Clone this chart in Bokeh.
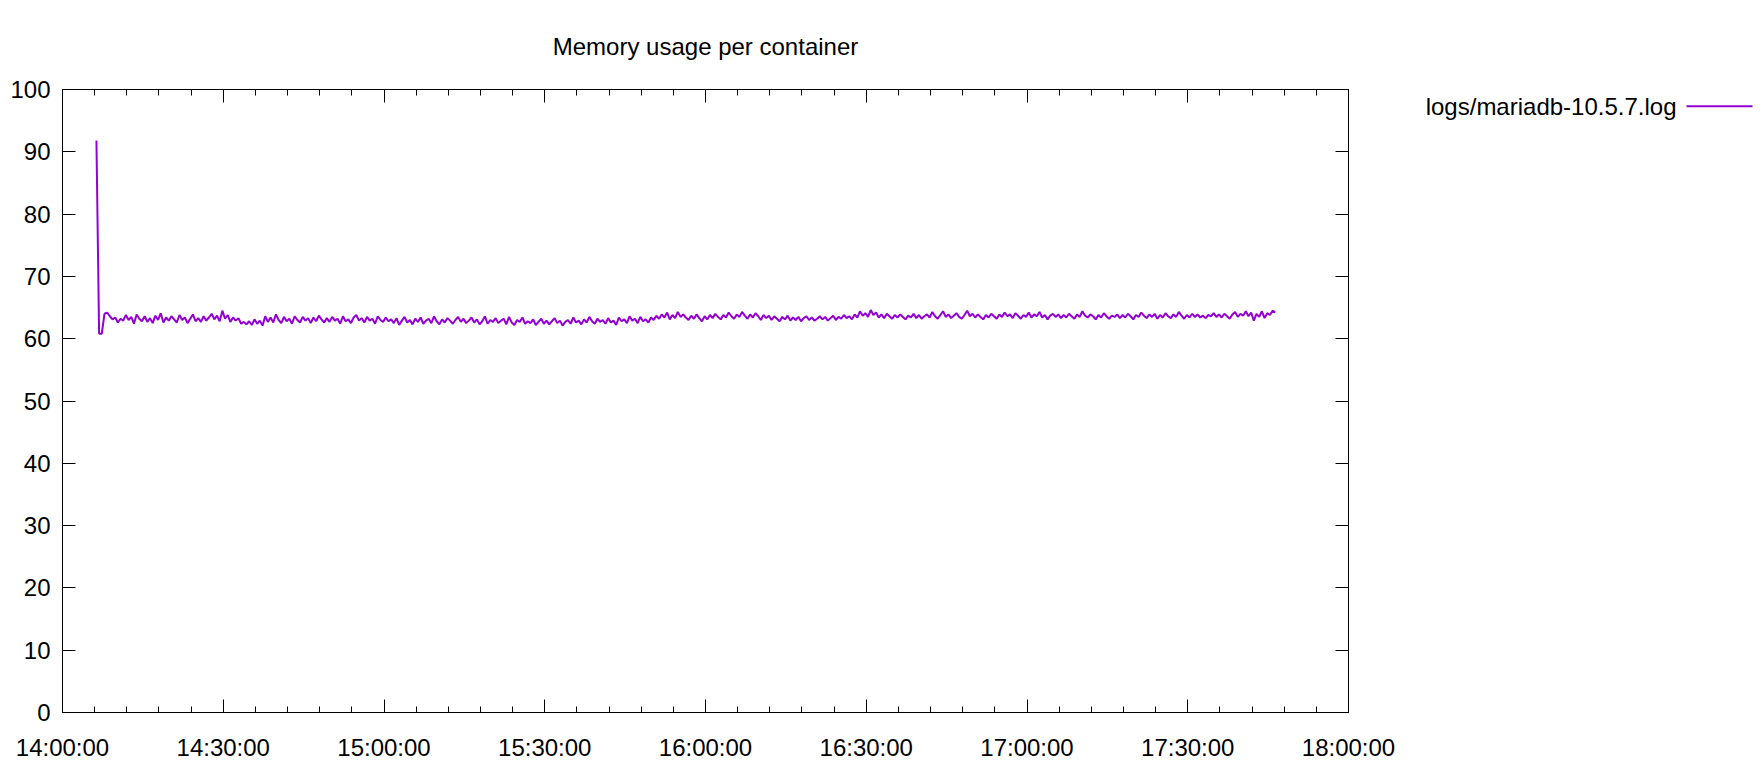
import pandas as pd
from bokeh.plotting import figure
from bokeh.layouts import row
from bokeh.models import (ColumnDataSource, FixedTicker, DatetimeTickFormatter,
                          LinearAxis, DatetimeAxis, Range1d, CustomJSTickFormatter)
from bokeh.core.properties import value
from bokeh.embed import file_html
from bokeh.resources import INLINE

# ---------------- data ----------------
title_text = "Memory usage per container"
series_name = "logs/mariadb-10.5.7.log"
day = "2020-11-20"
start_time = "14:06:20"
step_seconds = 30
memory_values = [
    91.8, 60.8, 60.8, 64.0, 64.2, 63.6, 63.1, 63.4, 62.6, 63.2,
    62.9, 63.8, 63.0, 63.5, 62.4, 63.9, 63.2, 62.8, 63.6, 62.7,
    63.3, 62.5, 63.7, 63.0, 64.1, 62.6, 63.4, 62.9, 63.6, 63.1,
    62.6, 63.8, 63.0, 63.4, 62.5, 63.2, 63.9, 62.8, 63.3, 62.7,
    63.6, 62.9, 63.4, 64.0, 63.1, 63.7, 62.8, 64.5, 63.2, 63.8,
    62.7, 63.4, 62.9, 63.3, 62.4, 62.7, 62.3, 62.8, 62.2, 63.1,
    62.4, 62.9, 62.1, 63.6, 62.7, 63.4, 62.6, 63.9, 63.0, 62.5,
    63.5, 62.8, 63.2, 62.4, 63.6, 63.0, 62.6, 63.5, 62.9, 63.3,
    62.5, 63.4, 62.8, 63.7, 63.1, 62.6, 63.3, 62.7, 63.5, 62.9,
    63.2, 62.4, 63.6, 62.8, 63.1, 62.5, 63.4, 63.8, 62.9, 63.3,
    62.6, 63.5, 62.9, 63.2, 62.4, 63.6, 63.0, 62.7, 63.4, 62.8,
    63.1, 62.5, 63.3, 62.2, 62.9, 63.5, 62.6, 63.0, 62.3, 63.2,
    62.7, 63.4, 62.4, 62.9, 63.2, 62.5, 63.6, 62.8, 62.3, 63.1,
    62.6, 63.3, 62.9, 62.4, 63.0, 63.5, 62.7, 63.2, 62.5, 62.9,
    63.4, 62.6, 63.1, 62.3, 62.8, 63.6, 62.4, 63.0, 62.7, 63.3,
    62.5, 62.9, 63.2, 62.3, 63.5, 62.6, 62.2, 63.0, 62.7, 63.4,
    62.4, 62.8, 62.5, 63.1, 62.2, 62.7, 63.2, 62.4, 62.9, 62.3,
    62.8, 63.3, 62.5, 62.9, 62.1, 62.7, 63.0, 62.4, 63.4, 62.6,
    62.9, 62.3, 63.1, 62.6, 63.5, 62.8, 62.4, 63.2, 62.7, 63.0,
    62.4, 63.3, 62.6, 62.9, 62.2, 63.4, 62.8, 63.1, 62.5, 63.6,
    62.9, 63.2, 62.5, 63.5, 62.8, 63.1, 62.6, 63.4, 63.0, 63.7,
    63.2, 63.9, 63.4, 64.2, 63.1, 63.8, 63.3, 64.3, 63.5, 63.9,
    63.4, 63.0, 63.7, 63.2, 63.9, 63.3, 62.8, 63.6, 63.1, 63.8,
    63.3, 64.0, 63.5, 63.1, 63.8, 63.4, 64.2, 63.6, 63.2, 63.9,
    63.5, 64.3, 63.7, 63.2, 63.9, 63.4, 64.1, 63.6, 63.0, 63.8,
    63.3, 63.7, 63.0, 63.6, 63.2, 62.8, 63.5, 63.1, 63.7, 62.9,
    63.4, 63.0, 63.5, 62.8, 63.3, 63.6, 63.0, 63.4, 62.9, 63.2,
    63.6, 63.1, 63.5, 62.9, 63.3, 63.7, 63.0, 63.5, 63.2, 63.8,
    63.3, 63.6, 63.1, 63.9, 63.4, 64.4, 63.7, 64.1, 63.5, 64.6,
    63.8, 64.2, 63.4, 63.9, 63.3, 64.0, 63.6, 63.2, 63.8, 63.4,
    63.9, 63.5, 63.1, 63.7, 63.4, 64.0, 63.3, 63.8, 63.2, 63.6,
    63.9, 63.4, 64.3, 63.6, 63.2, 63.8, 64.4, 63.5, 63.9, 63.3,
    63.7, 64.1, 63.5, 63.2, 63.8, 64.5, 63.6, 64.0, 63.4, 63.9,
    63.5, 63.1, 63.8, 63.4, 64.0, 63.6, 63.2, 63.9, 63.5, 64.2,
    63.6, 63.9, 63.3, 64.1, 63.7, 63.2, 63.8, 63.5, 64.2, 63.4,
    63.9, 63.6, 64.3, 63.4, 63.8, 63.1, 63.7, 64.0, 63.5, 63.9,
    63.3, 63.8, 63.4, 64.0, 63.6, 63.2, 63.9, 63.5, 64.4, 63.7,
    63.4, 63.9, 63.6, 63.1, 63.8, 63.4, 64.1, 63.6, 63.2, 63.7,
    63.5, 63.9, 63.3, 63.8, 63.4, 64.0, 63.6, 63.1, 63.8, 63.5,
    64.2, 63.7, 63.3, 63.9, 63.5, 64.0, 63.2, 63.8, 63.4, 64.1,
    63.6, 63.3, 63.9, 63.5, 64.3, 63.7, 63.2, 63.8, 63.4, 64.0,
    63.5, 63.9, 63.4, 63.7, 63.3, 63.8, 63.6, 64.1, 63.5, 63.9,
    63.4, 64.0, 63.6, 63.2, 63.9, 64.3, 63.5, 64.0, 63.7, 64.4,
    63.6, 64.2, 62.9, 64.0, 63.5, 64.4, 63.3, 64.1, 63.8, 64.5,
    64.2,
]
y_ticks = [0, 10, 20, 30, 40, 50, 60, 70, 80, 90, 100]
x_tick_labels = ["14:00:00", "14:30:00", "15:00:00", "15:30:00", "16:00:00",
                 "16:30:00", "17:00:00", "17:30:00", "18:00:00"]
minor_step_minutes = 6

# ---------------- styling / layout ----------------
FONT = "Liberation Sans"
FS = "24px"
COLOR = "#9400d3"
W_TOTAL, H = 1759, 776
FRAME_L, FRAME_R, FRAME_T, FRAME_B = 62, 1348, 83, 712
W_MAIN = FRAME_R + 60
W_LEG = W_TOTAL - W_MAIN
LEG_Y = 100
LEG_TEXT_RIGHT = 1676
LEG_LINE_X0, LEG_LINE_X1 = 1686, 1752

times = pd.date_range(f"{day} {start_time}", periods=len(memory_values),
                      freq=f"{step_seconds}s")
src = ColumnDataSource(dict(t=times, v=memory_values))

major_ts = [pd.Timestamp(f"{day} {s}") for s in x_tick_labels]
x_start, x_end = major_ts[0], major_ts[-1]
major_ms = [ts.value // 10**6 for ts in major_ts]
minor_ms = [ts.value // 10**6 for ts in
            pd.date_range(x_start, x_end, freq=f"{minor_step_minutes}min")]

p = figure(width=W_MAIN, height=H, x_axis_type="datetime",
           x_range=Range1d(x_start, x_end), y_range=Range1d(y_ticks[0], y_ticks[-1]),
           output_backend="svg", toolbar_location=None,
           min_border_left=FRAME_L, min_border_right=W_MAIN - FRAME_R,
           min_border_top=FRAME_T, min_border_bottom=H - FRAME_B,
           title=title_text)
p.title.align = "center"
p.title.text_font = FONT
p.title.text_font_size = FS
p.title.text_font_style = "normal"
p.title.text_color = "black"
p.title.standoff = 60

p.xgrid.visible = False
p.ygrid.visible = False
p.outline_line_color = "black"
p.outline_line_width = 1
p.outline_line_alpha = 1

xt = FixedTicker(ticks=major_ms, minor_ticks=minor_ms)
yt = FixedTicker(ticks=y_ticks, minor_ticks=[])
fmt = DatetimeTickFormatter(microseconds="%H:%M:%S", milliseconds="%H:%M:%S",
                            seconds="%H:%M:%S", minsec="%H:%M:%S",
                            minutes="%H:%M:%S", hourmin="%H:%M:%S",
                            hours="%H:%M:%S", days="%H:%M:%S",
                            months="%H:%M:%S", years="%H:%M:%S")


def style(ax, show_labels, standoff):
    ax.axis_line_color = "black"
    ax.major_tick_line_color = "black"
    ax.minor_tick_line_color = "black"
    ax.major_tick_in = 13
    ax.major_tick_out = 0
    ax.minor_tick_in = 6
    ax.minor_tick_out = 0
    ax.major_label_text_font = FONT
    ax.major_label_text_color = "black"
    if show_labels:
        ax.major_label_text_font_size = FS
        ax.major_label_standoff = standoff
    else:
        ax.major_label_text_font_size = "0px"
        ax.major_label_standoff = 0


p.xaxis.ticker = xt
p.xaxis.formatter = fmt
p.yaxis.ticker = yt
style(p.xaxis[0], True, 21)
style(p.yaxis[0], True, 12)

blank = CustomJSTickFormatter(code="return ''")
ax_r = LinearAxis(ticker=yt, formatter=blank)
style(ax_r, False, 0)
p.add_layout(ax_r, "right")
ax_t = DatetimeAxis(ticker=xt, formatter=blank)
style(ax_t, False, 0)
p.add_layout(ax_t, "above")

p.line("t", "v", source=src, line_color=COLOR, line_width=2)

# ---------------- legend panel (page pixel coordinates) ----------------
lg = figure(width=W_LEG, height=H,
            x_range=Range1d(W_MAIN, W_TOTAL), y_range=Range1d(FRAME_B, FRAME_T),
            output_backend="svg", toolbar_location=None,
            x_axis_location=None, y_axis_location=None,
            min_border_left=0, min_border_right=0,
            min_border_top=FRAME_T, min_border_bottom=H - FRAME_B)
lg.xgrid.visible = False
lg.ygrid.visible = False
lg.outline_line_color = None
lg.text(x=[LEG_TEXT_RIGHT], y=[LEG_Y], text=[series_name], text_align="right",
        text_baseline="middle", text_font=value(FONT), text_font_size=FS,
        text_color="black")
lg.line(x=[LEG_LINE_X0, LEG_LINE_X1], y=[LEG_Y, LEG_Y], line_color=COLOR, line_width=2)

layout = row(p, lg)
open("out.html", "w").write(file_html(layout, INLINE))
